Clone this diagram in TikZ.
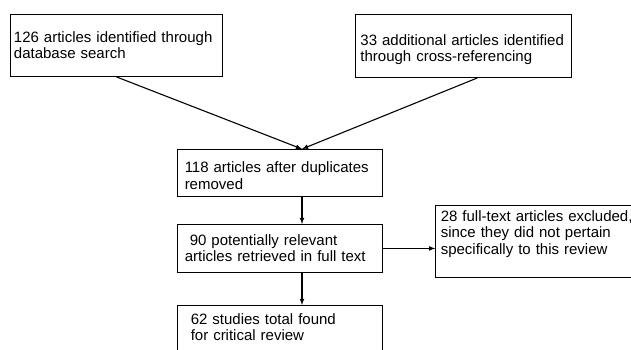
\documentclass[tikz,border=0pt]{standalone}
\usepackage{fontspec}
\setmainfont{Liberation Sans}
\tikzset{
  box/.style={draw, line width=0.9pt, anchor=north west, align=left, inner ysep=0pt,
    font=\fontsize{15pt}{16.5pt}\selectfont},
  flow/.style={-latex, line width=1.1pt}
}
\begin{document}
\begin{tikzpicture}[x=1pt,y=-1pt]
    \useasboundingbox (0,0) rectangle (631,349);
    \clip (0,0) rectangle (631,349);
    \node[box, inner xsep=3.5pt, text width=205pt, text height=28pt, text depth=34pt]
      (search) at (10,14) {126 articles identified through\\database search};
    \node[box, inner xsep=5pt, text width=206pt, text height=31pt, text depth=32pt]
      (crossref) at (355,14) {33 additional articles identified\\through cross-referencing};
    \node[box, inner xsep=7pt, text width=191pt, text height=23.5pt, text depth=23.5pt]
      (dedup) at (177.3,149) {118 articles after duplicates\\removed};
    \node[box, inner xsep=7pt, text width=191pt, text height=20.7pt, text depth=27.3pt]
      (fulltext) at (177.3,224) {\ 90 potentially relevant\\articles retrieved in full text};
    \node[box, inner xsep=5pt, text width=230pt, text height=15.7pt, text depth=56.3pt]
      (excluded) at (435.3,205) {28 full-text articles excluded,\\since they did not pertain\\specifically to this review};
    \node[box, inner xsep=13pt, text width=179pt, text height=19pt, text depth=40pt]
      (final) at (177.3,305) {62 studies total found\\for critical review};
    \coordinate (axis) at (302,0);
    \draw[flow] (search.south) -- (dedup.north -| axis);
    \draw[flow] ([xshift=14pt]crossref.south) -- (dedup.north -| axis);
    \draw[flow] (dedup.south -| axis) -- (fulltext.north -| axis);
    \draw[flow] (fulltext.south -| axis) -- (final.north -| axis);
    \draw[flow] (fulltext.east) -- (fulltext.east -| excluded.west);
  \end{tikzpicture}
\end{document}
